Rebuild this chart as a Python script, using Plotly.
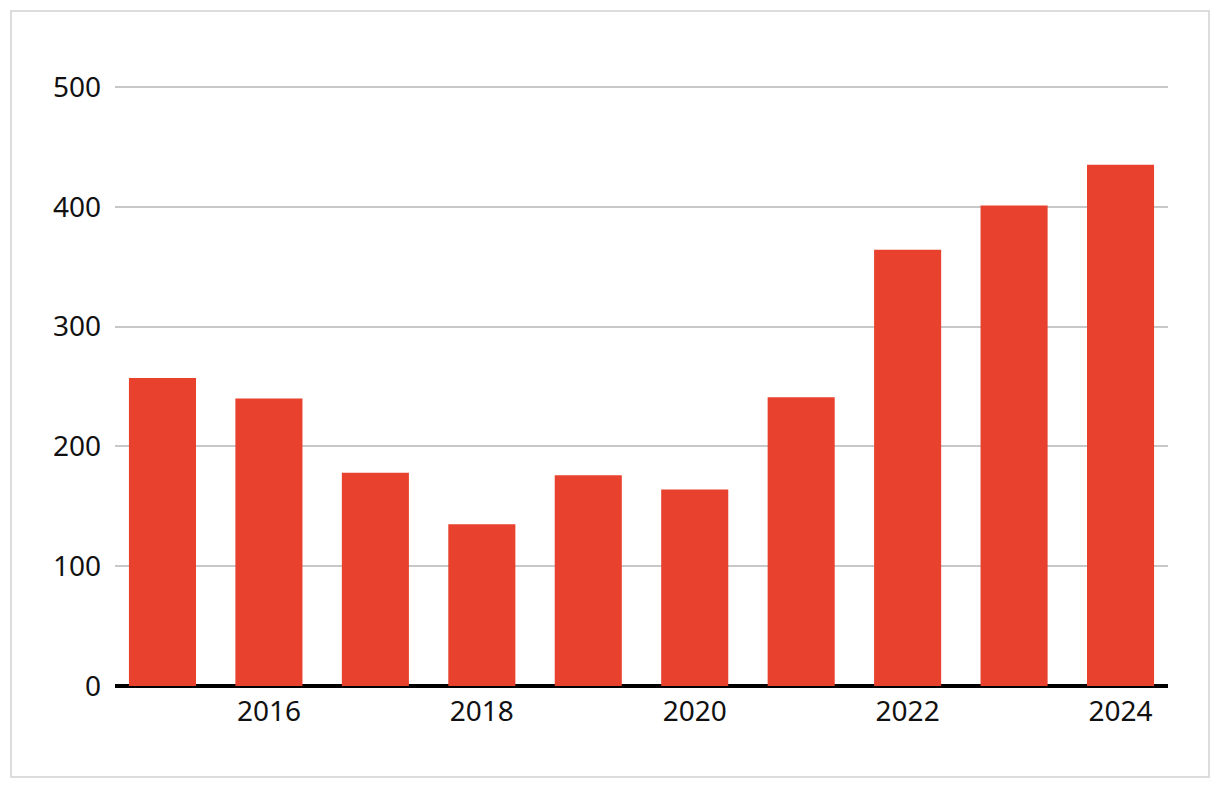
import plotly.graph_objects as go

years = [2015, 2016, 2017, 2018, 2019, 2020, 2021, 2022, 2023, 2024]
values = [257, 240, 178, 135, 176, 164, 241, 364, 401, 435]
x_ticks = [2016, 2018, 2020, 2022, 2024]
y_ticks = [0, 100, 200, 300, 400, 500]

FONT = "Noto Sans"
FS = 28

fig = go.Figure()
fig.add_trace(go.Bar(x=years, y=values, marker=dict(color="#E8412D", line=dict(width=0)),
                     hoverinfo="x+y"))

W, H = 1220, 788
L, R, T, B = 115, 52, 39, 102
pw = W - L - R
ph = H - T - B

fig.update_layout(
    width=W, height=H,
    margin=dict(l=L, r=R, t=T, b=B, pad=0),
    paper_bgcolor="white", plot_bgcolor="white",
    bargap=0.37,
    showlegend=False,
    font=dict(family=FONT, size=FS, color="#111111"),
    xaxis=dict(range=[2014.554, 2024.446], tickmode="array", tickvals=x_ticks,
               ticktext=[str(t) for t in x_ticks], showgrid=False, zeroline=False,
               showline=False, ticks="", ticklabelstandoff=6,
               tickfont=dict(family=FONT, size=FS, color="#111111")),
    yaxis=dict(range=[0, 540], tickmode="array", tickvals=y_ticks,
               ticktext=[str(t) for t in y_ticks], showgrid=True, gridcolor="#c8c8c8",
               gridwidth=2, zeroline=True, zerolinecolor="#000000", zerolinewidth=4,
               showline=False, ticks="", ticklabelstandoff=13,
               tickfont=dict(family=FONT, size=FS, color="#111111")),
    shapes=[dict(type="rect", xref="paper", yref="paper",
                 x0=(11 - L) / pw, x1=(1209 - L) / pw,
                 y0=(H - B - 777) / ph, y1=(H - B - 11) / ph,
                 line=dict(color="#dcdcdc", width=2), fillcolor="rgba(0,0,0,0)", layer="below")],
)

fig.write_html("out.html")
